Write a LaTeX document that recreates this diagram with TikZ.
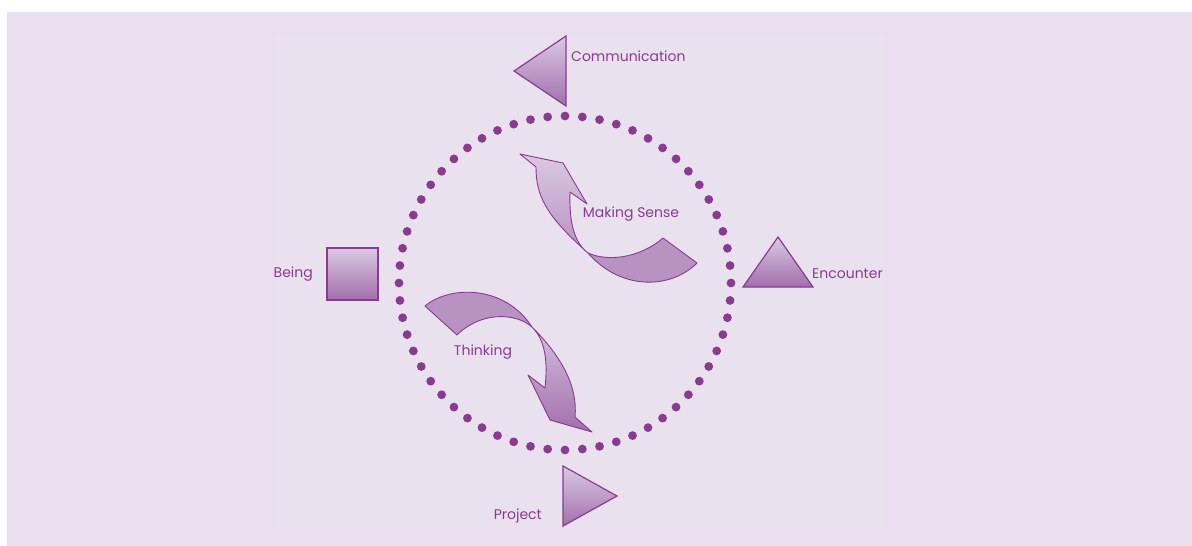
\documentclass[tikz,border=0pt]{standalone}
\usepackage{fontspec}
\setmainfont{Poppins}
\usepackage{xcolor}
\definecolor{back}{RGB}{234,223,238}
\definecolor{panel}{RGB}{233,225,238}
\definecolor{plum}{RGB}{139,58,145}
\definecolor{lilac}{RGB}{218,201,226}
\definecolor{mauve}{RGB}{162,111,173}
\definecolor{lobe}{RGB}{184,146,193}
\usetikzlibrary{positioning}
\tikzstyle{Shape} = [
draw=plum, line width=1.2pt,
top color=lilac, bottom color=mauve]
\tikzstyle{Ribbon} = [draw=plum, line width=0.9pt, line join=round]
\tikzstyle{Label} = [text=plum, font=\fontsize{14}{16}\selectfont, inner sep=0pt]

\begin{document}
\begin{tikzpicture}[x=1pt, y=-1pt]
    \useasboundingbox (0,0) rectangle (1192,546);
    \fill[back] (7,12) rectangle (1192,546);
    \fill[panel] (275,36) rectangle (884,527);

    % dotted ring
    \foreach \i in {0,...,59}
        \fill[plum] (565,283) ++(\i*6:166 and 167) circle (4.4);

    % shapes round the ring
    \draw[Shape] (566,36) -- (514,71) -- (566,106) -- cycle;
    \draw[Shape] (778,237) -- (813,287) -- (743,287) -- cycle;
    \draw[Shape] (327,248) rectangle (378,300);
    \draw[Shape] (563,466) -- (617,496) -- (563,526) -- cycle;

    % making sense
    \draw[Ribbon, fill=lobe] (588,253) .. controls (608,262) and (640,258) .. (663,238)
        -- (697,263) .. controls (670,290) and (620,290) .. (588,253) -- cycle;
    \draw[Ribbon, top color=lilac, bottom color=lobe] (520,154) -- (563,163) -- (587,204)
        -- (570,192) .. controls (569,225) and (575,243) .. (588,253)
        .. controls (545,215) and (536,195) .. (536,167) -- cycle;

    % thinking
    \draw[Ribbon, fill=lobe] (425,306) .. controls (450,285) and (505,285) .. (532,327)
        .. controls (515,312) and (480,312) .. (457,335) -- cycle;
    \draw[Ribbon, top color=lilac!85!lobe, bottom color=mauve] (532,327)
        .. controls (560,355) and (578,385) .. (575,417) -- (592,432) -- (550,420)
        -- (528,375) -- (545,388) .. controls (548,360) and (545,340) .. (532,327) -- cycle;

    \node[Label, anchor=west] (1) at (571,56) {Communication};
    \node[Label, anchor=west] (2) at (812,274) {Encounter};
    \node[Label, anchor=east] (3) at (313,274) {Being};
    \node[Label, anchor=east] (4) at (542,516) {Project};
    \node[Label] (5) at (631,214) {Making Sense};
    \node[Label] (6) at (483,352) {Thinking};
\end{tikzpicture}
\end{document}
